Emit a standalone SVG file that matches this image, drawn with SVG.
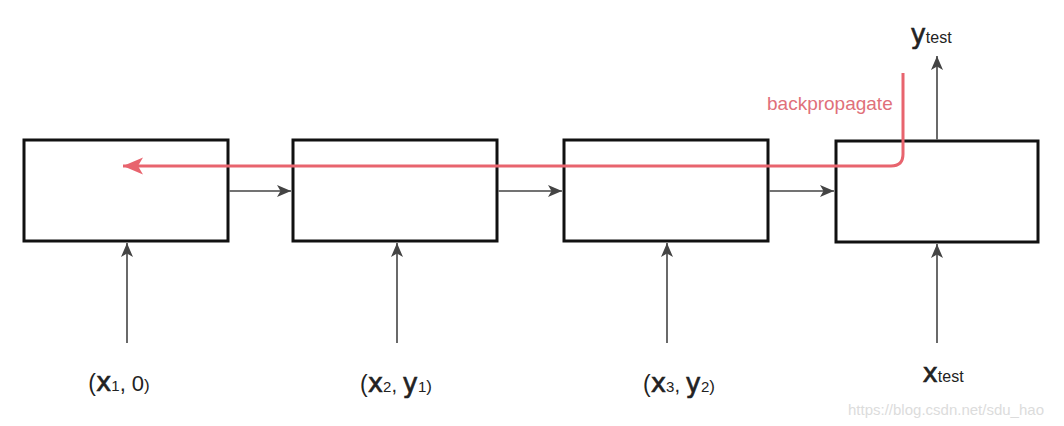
<svg xmlns="http://www.w3.org/2000/svg" width="1064" height="426" viewBox="0 0 1064 426">
<style>
.box{fill:#fff;stroke:#111;stroke-width:3}
.conn{fill:none;stroke:#444;stroke-width:1.6}
.bp{fill:none;stroke:#e8646e;stroke-width:3}
.lbl{font-family:"Liberation Sans",Arial,sans-serif;fill:#222}
.big{font-family:"DejaVu Sans","Liberation Sans",sans-serif;font-size:26px;stroke:#222;stroke-width:0.6}
.bptext{font-family:"Liberation Sans",Arial,sans-serif;font-size:19px;fill:#e0707a}
.wm{font-family:"Liberation Sans",Arial,sans-serif;font-size:15px;fill:#dcdcdc}
</style>
<defs>
<marker id="ah" markerUnits="userSpaceOnUse" markerWidth="15" markerHeight="13" refX="14" refY="6" orient="auto">
<path d="M0,0 L14,6 L0,12 L3.5,6 z" fill="#444"/>
</marker>
<marker id="ahr" markerUnits="userSpaceOnUse" markerWidth="22" markerHeight="18" refX="20" refY="8.5" orient="auto">
<path d="M0,0 L20,8.5 L0,17 L5,8.5 z" fill="#e8646e"/>
</marker>
</defs>
<g id="node1"><rect class="box" x="24" y="140" width="204" height="101"/></g>
<g id="node2"><rect class="box" x="293" y="140" width="204" height="101"/></g>
<g id="node3"><rect class="box" x="564" y="140" width="204" height="101"/></g>
<g id="node4"><rect class="box" x="836" y="141" width="202" height="101"/></g>
<g id="connectors">
<line class="conn" x1="229.5" y1="191" x2="291" y2="191" marker-end="url(#ah)"/>
<line class="conn" x1="498.5" y1="191" x2="562" y2="191" marker-end="url(#ah)"/>
<line class="conn" x1="769.5" y1="191" x2="834" y2="191" marker-end="url(#ah)"/>
<line class="conn" x1="127" y1="343" x2="127" y2="243" marker-end="url(#ah)"/>
<line class="conn" x1="397" y1="343" x2="397" y2="243" marker-end="url(#ah)"/>
<line class="conn" x1="667" y1="343" x2="667" y2="243" marker-end="url(#ah)"/>
<line class="conn" x1="937" y1="343" x2="937" y2="244" marker-end="url(#ah)"/>
<line class="conn" x1="937" y1="139.5" x2="937" y2="56" marker-end="url(#ah)"/>
<path class="bp" d="M903,73 V154 Q903,166 891,166 H123" marker-end="url(#ahr)"/>
</g>
<g id="backprop-label"><text class="bptext" x="767" y="110">backpropagate</text></g>
<g id="labels">
<text class="lbl" x="119" y="391" text-anchor="middle"><tspan font-size="23">(</tspan><tspan class="big">x</tspan><tspan font-size="15">1</tspan><tspan font-size="22">, 0</tspan><tspan font-size="17">)</tspan></text>
<text class="lbl" x="396" y="392" text-anchor="middle"><tspan font-size="23">(</tspan><tspan class="big">x</tspan><tspan font-size="15">2</tspan><tspan font-size="20">, </tspan><tspan class="big">y</tspan><tspan font-size="15">1</tspan><tspan font-size="17">)</tspan></text>
<text class="lbl" x="679" y="392" text-anchor="middle"><tspan font-size="23">(</tspan><tspan class="big">x</tspan><tspan font-size="15">3</tspan><tspan font-size="20">, </tspan><tspan class="big">y</tspan><tspan font-size="15">2</tspan><tspan font-size="17">)</tspan></text>
<text class="lbl" x="943" y="382" text-anchor="middle"><tspan class="big">x</tspan><tspan font-size="16">test</tspan></text>
<text class="lbl" x="931" y="43" text-anchor="middle"><tspan class="big">y</tspan><tspan font-size="16">test</tspan></text>
</g>
<text class="wm" x="848" y="415">https://blog.csdn.net/sdu_hao</text>
</svg>
